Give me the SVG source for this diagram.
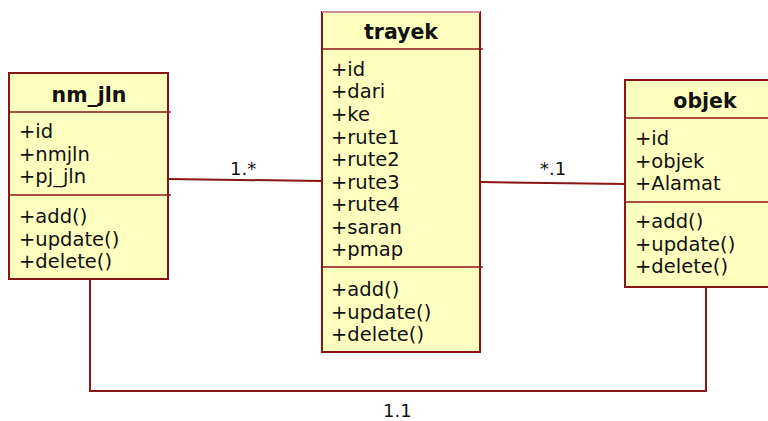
<svg xmlns="http://www.w3.org/2000/svg" width="768" height="421" viewBox="0 0 768 421">
  <style>
    .box { fill: #FFFFC0; stroke: #8B1414; stroke-width: 2; }
    .div { stroke: #8B1414; stroke-width: 1.6; fill: none; }
    .conn { stroke: #8B1414; stroke-width: 2; fill: none; }
    text { font-family: "DejaVu Sans", Verdana, sans-serif; fill: #111; }
    .title { font-size: 20.5px; font-weight: bold; text-anchor: middle; }
    .item { font-size: 19.5px; }
    .mult { font-size: 18px; }
  </style>
  <rect width="768" height="421" fill="#ffffff"/>

  <!-- associations -->
  <g id="connectors">
    <line class="conn" x1="168" y1="179" x2="322" y2="181"/>
    <line class="conn" x1="480" y1="182" x2="625" y2="184"/>
    <polyline class="conn" points="90,279 90,391 706,391 706,287"/>
    <text class="mult" x="230" y="175">1.*</text>
    <text class="mult" x="540" y="175">*.1</text>
    <text class="mult" x="383" y="417">1.1</text>
  </g>

  <!-- class nm_jln -->
  <g id="nm_jln">
    <rect class="box" x="9" y="73" width="159" height="206"/>
    <line class="div" x1="9" y1="112" x2="171" y2="112"/>
    <line class="div" x1="9" y1="195" x2="171" y2="195"/>
    <text class="title" x="89" y="102">nm_jln</text>
    <text class="item" x="19" y="138">+id</text>
    <text class="item" x="19" y="161">+nmjln</text>
    <text class="item" x="19" y="183">+pj_jln</text>
    <text class="item" x="19" y="223">+add()</text>
    <text class="item" x="19" y="246">+update()</text>
    <text class="item" x="19" y="268">+delete()</text>
  </g>

  <!-- class trayek -->
  <g id="trayek">
    <rect class="box" x="322" y="12" width="158" height="340"/>
    <line x1="322" y1="12" x2="480" y2="12" stroke="#C89090" stroke-width="2"/>
    <line class="div" x1="322" y1="49" x2="483" y2="49"/>
    <line class="div" x1="322" y1="267" x2="483" y2="267"/>
    <text class="title" x="401" y="39">trayek</text>
    <text class="item" x="331" y="76">+id</text>
    <text class="item" x="331" y="98">+dari</text>
    <text class="item" x="331" y="121">+ke</text>
    <text class="item" x="331" y="144">+rute1</text>
    <text class="item" x="331" y="166">+rute2</text>
    <text class="item" x="331" y="189">+rute3</text>
    <text class="item" x="331" y="211">+rute4</text>
    <text class="item" x="331" y="234">+saran</text>
    <text class="item" x="331" y="256">+pmap</text>
    <text class="item" x="331" y="296">+add()</text>
    <text class="item" x="331" y="319">+update()</text>
    <text class="item" x="331" y="341">+delete()</text>
  </g>

  <!-- class objek -->
  <g id="objek">
    <rect class="box" x="625" y="80" width="170" height="207"/>
    <line class="div" x1="625" y1="118" x2="795" y2="118"/>
    <line class="div" x1="625" y1="202" x2="795" y2="202"/>
    <text class="title" x="705" y="108">objek</text>
    <text class="item" x="635" y="145">+id</text>
    <text class="item" x="635" y="168">+objek</text>
    <text class="item" x="635" y="190">+Alamat</text>
    <text class="item" x="635" y="228">+add()</text>
    <text class="item" x="635" y="251">+update()</text>
    <text class="item" x="635" y="273">+delete()</text>
  </g>
</svg>
